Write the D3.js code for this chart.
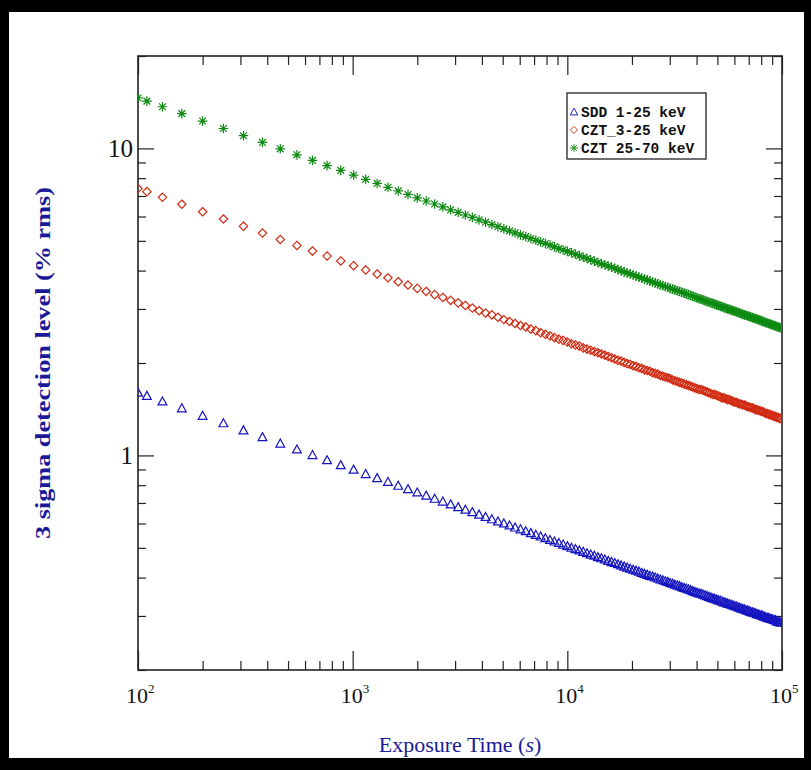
<!DOCTYPE html>
<html>
<head>
<meta charset="utf-8">
<script src="https://cdn.jsdelivr.net/npm/d3@7"></script>
<style>
  html, body { margin: 0; padding: 0; background: #000; }
  svg { display: block; }
</style>
</head>
<body>
<svg id="chart"></svg>
<script>
// Exposure times (s)
const times = [100, 110, 130, 160, 200, 250, 310, 380, 460, 550, 650, 760, 880, 1010, 1150, 1300, 1460, 1630, 1810, 2000,
  2200, 2410, 2630, 2860, 3100, 3350, 3610, 3880, 4160, 4450, 4750, 5060, 5380, 5710, 6050, 6400, 6760, 7130, 7510, 7900,
  8300, 8710, 9130, 9560, 10000, 10450, 10910, 11380, 11860, 12350, 12850, 13360, 13880, 14410, 14950, 15500, 16060, 16630, 17210, 17800,
  18400, 19010, 19630, 20260, 20900, 21550, 22210, 22880, 23560, 24250, 24950, 25660, 26380, 27110, 27850, 28600, 29360, 30130, 30910, 31700,
  32500, 33310, 34130, 34960, 35800, 36650, 37510, 38380, 39260, 40150, 41050, 41960, 42880, 43810, 44750, 45700, 46660, 47630, 48610, 49600,
  50600, 51610, 52630, 53660, 54700, 55750, 56810, 57880, 58960, 60050, 61150, 62260, 63380, 64510, 65650, 66800, 67960, 69130, 70310, 71500,
  72700, 73910, 75130, 76360, 77600, 78850, 80110, 81380, 82660, 83950, 85250, 86560, 87880, 89210, 90550, 91900, 93260, 94630, 96010, 97400,
  98800];

// 3 sigma detection level (% rms)
const sddValues = [1.600, 1.562, 1.498, 1.423, 1.345, 1.272, 1.206, 1.146, 1.092, 1.045, 1.002, 0.964, 0.929, 0.898, 0.869, 0.843, 0.819, 0.796, 0.776, 0.757,
  0.739, 0.722, 0.707, 0.692, 0.678, 0.665, 0.653, 0.641, 0.630, 0.619, 0.609, 0.600, 0.591, 0.582, 0.574, 0.566, 0.558, 0.551, 0.544, 0.537,
  0.530, 0.524, 0.518, 0.512, 0.506, 0.500, 0.495, 0.490, 0.485, 0.480, 0.475, 0.471, 0.466, 0.462, 0.458, 0.453, 0.449, 0.446, 0.442, 0.438,
  0.434, 0.431, 0.427, 0.424, 0.421, 0.418, 0.414, 0.411, 0.408, 0.405, 0.403, 0.400, 0.397, 0.394, 0.392, 0.389, 0.387, 0.384, 0.382, 0.379,
  0.377, 0.375, 0.372, 0.370, 0.368, 0.366, 0.364, 0.361, 0.359, 0.357, 0.355, 0.354, 0.352, 0.350, 0.348, 0.346, 0.344, 0.342, 0.341, 0.339,
  0.337, 0.336, 0.334, 0.332, 0.331, 0.329, 0.328, 0.326, 0.325, 0.323, 0.322, 0.320, 0.319, 0.317, 0.316, 0.315, 0.313, 0.312, 0.311, 0.309,
  0.308, 0.307, 0.306, 0.304, 0.303, 0.302, 0.301, 0.300, 0.298, 0.297, 0.296, 0.295, 0.294, 0.293, 0.292, 0.291, 0.290, 0.288, 0.287, 0.286,
  0.285];

const cztLowValues = [7.40, 7.23, 6.93, 6.58, 6.22, 5.89, 5.58, 5.30, 5.05, 4.83, 4.63, 4.46, 4.30, 4.15, 4.02, 3.90, 3.79, 3.68, 3.59, 3.50,
  3.42, 3.34, 3.27, 3.20, 3.14, 3.08, 3.02, 2.96, 2.91, 2.87, 2.82, 2.77, 2.73, 2.69, 2.65, 2.62, 2.58, 2.55, 2.51, 2.48,
  2.45, 2.42, 2.39, 2.37, 2.34, 2.31, 2.29, 2.27, 2.24, 2.22, 2.20, 2.18, 2.16, 2.14, 2.12, 2.10, 2.08, 2.06, 2.04, 2.03,
  2.01, 1.99, 1.98, 1.96, 1.95, 1.93, 1.92, 1.90, 1.89, 1.88, 1.86, 1.85, 1.84, 1.82, 1.81, 1.80, 1.79, 1.78, 1.76, 1.75,
  1.74, 1.73, 1.72, 1.71, 1.70, 1.69, 1.68, 1.67, 1.66, 1.65, 1.64, 1.64, 1.63, 1.62, 1.61, 1.60, 1.59, 1.58, 1.58, 1.57,
  1.56, 1.55, 1.54, 1.54, 1.53, 1.52, 1.52, 1.51, 1.50, 1.49, 1.49, 1.48, 1.47, 1.47, 1.46, 1.46, 1.45, 1.44, 1.44, 1.43,
  1.43, 1.42, 1.41, 1.41, 1.40, 1.40, 1.39, 1.39, 1.38, 1.37, 1.37, 1.36, 1.36, 1.35, 1.35, 1.34, 1.34, 1.33, 1.33, 1.32,
  1.32];

const cztHighValues = [14.60, 14.26, 13.67, 12.98, 12.28, 11.61, 11.00, 10.46, 9.97, 9.53, 9.14, 8.79, 8.48, 8.19, 7.93, 7.69, 7.47, 7.27, 7.08, 6.90,
  6.74, 6.59, 6.45, 6.31, 6.19, 6.07, 5.96, 5.85, 5.75, 5.65, 5.56, 5.47, 5.39, 5.31, 5.23, 5.16, 5.09, 5.02, 4.96, 4.90,
  4.84, 4.78, 4.72, 4.67, 4.62, 4.57, 4.52, 4.47, 4.42, 4.38, 4.34, 4.29, 4.25, 4.21, 4.18, 4.14, 4.10, 4.07, 4.03, 4.00,
  3.96, 3.93, 3.90, 3.87, 3.84, 3.81, 3.78, 3.75, 3.73, 3.70, 3.67, 3.65, 3.62, 3.60, 3.57, 3.55, 3.53, 3.50, 3.48, 3.46,
  3.44, 3.42, 3.40, 3.38, 3.36, 3.34, 3.32, 3.30, 3.28, 3.26, 3.24, 3.23, 3.21, 3.19, 3.17, 3.16, 3.14, 3.13, 3.11, 3.09,
  3.08, 3.06, 3.05, 3.03, 3.02, 3.00, 2.99, 2.98, 2.96, 2.95, 2.94, 2.92, 2.91, 2.90, 2.88, 2.87, 2.86, 2.85, 2.84, 2.82,
  2.81, 2.80, 2.79, 2.78, 2.77, 2.76, 2.74, 2.73, 2.72, 2.71, 2.70, 2.69, 2.68, 2.67, 2.66, 2.65, 2.64, 2.63, 2.62, 2.61,
  2.60];

const seriesNames = ["SDD 1-25 keV", "CZT_3-25 keV", "CZT 25-70 keV"];

// Tick values
const xMajorTicks = [100, 1000, 10000, 100000];
const xTickExponents = ["2", "3", "4", "5"];
const xMinorTicks = [200, 300, 400, 500, 600, 700, 800, 900, 2000, 3000, 4000, 5000, 6000, 7000, 8000, 9000,
  20000, 30000, 40000, 50000, 60000, 70000, 80000, 90000];
const yMajorTicks = [1, 10];
const yTickLabels = ["1", "10"];
const yMinorTicks = [0.2, 0.3, 0.4, 0.5, 0.6, 0.7, 0.8, 0.9, 2, 3, 4, 5, 6, 7, 8, 9, 20];

// Dimensions
const Width = 811;
const Height = 770;
const plotLeft = 138, plotRight = 782, plotTop = 56, plotBottom = 670;
const serif = "'Liberation Serif', 'DejaVu Serif', serif";
const titleColor = "#1a1a98";

const svg = d3.select("#chart")
  .attr("width", Width)
  .attr("height", Height);

// black edge, white page
svg.append("rect").attr("width", Width).attr("height", Height).attr("fill", "#000");
svg.append("rect")
  .attr("x", 9).attr("y", 12)
  .attr("width", 795).attr("height", 746)
  .attr("fill", "#fff");

// Scales
const xScale = d3.scaleLog().domain([100, 100000]).range([plotLeft, plotRight]);
const yScale = d3.scaleLog().domain([0.2, 20]).range([plotBottom, plotTop]);

// Ticks on all four sides, pointing inward
function addTicks(axisFn, scale, values, size, transform) {
  svg.append("g")
    .attr("transform", transform)
    .call(axisFn(scale).tickValues(values).tickSize(size).tickSizeOuter(0).tickFormat(""))
    .call(g => g.select(".domain").remove())
    .call(g => g.selectAll("line").attr("stroke", "#222").attr("stroke-width", 1.2));
}
addTicks(d3.axisBottom, xScale, xMinorTicks, -9, `translate(0,${plotBottom})`);
addTicks(d3.axisBottom, xScale, xMajorTicks, -19, `translate(0,${plotBottom})`);
addTicks(d3.axisTop, xScale, xMinorTicks, -9, `translate(0,${plotTop})`);
addTicks(d3.axisTop, xScale, xMajorTicks, -19, `translate(0,${plotTop})`);
addTicks(d3.axisLeft, yScale, yMinorTicks, -8, `translate(${plotLeft},0)`);
addTicks(d3.axisLeft, yScale, yMajorTicks, -16, `translate(${plotLeft},0)`);
addTicks(d3.axisRight, yScale, yMinorTicks, -8, `translate(${plotRight},0)`);
addTicks(d3.axisRight, yScale, yMajorTicks, -16, `translate(${plotRight},0)`);

// Frame
svg.append("rect")
  .attr("x", plotLeft).attr("y", plotTop)
  .attr("width", plotRight - plotLeft).attr("height", plotBottom - plotTop)
  .attr("fill", "none")
  .attr("stroke", "#222")
  .attr("stroke-width", 1.6);

// Tick labels
const xLabels = svg.append("g").attr("font-family", serif).attr("font-size", 22).attr("fill", "#111");
xMajorTicks.forEach((v, i) => {
  const t = xLabels.append("text")
    .attr("x", xScale(v) - 12)
    .attr("y", 703);
  t.append("tspan").text("10");
  t.append("tspan").attr("font-size", 13).attr("dy", -10).text(xTickExponents[i]);
});

svg.append("g").attr("font-family", serif).attr("font-size", 25).attr("fill", "#111")
  .selectAll("text")
  .data(yMajorTicks)
  .enter()
  .append("text")
  .attr("x", plotLeft - 5)
  .attr("y", d => yScale(d))
  .attr("dy", "0.35em")
  .attr("text-anchor", "end")
  .text((d, i) => yTickLabels[i]);

// Axis titles
svg.append("text")
  .attr("transform", "translate(50,363) rotate(-90)")
  .attr("text-anchor", "middle")
  .attr("font-family", serif)
  .attr("font-weight", "bold")
  .attr("font-size", 21)
  .attr("textLength", 352)
  .attr("lengthAdjust", "spacingAndGlyphs")
  .attr("fill", titleColor)
  .text("3 sigma detection level (% rms)");

const xTitle = svg.append("text")
  .attr("x", 460)
  .attr("y", 752)
  .attr("text-anchor", "middle")
  .attr("font-family", serif)
  .attr("font-size", 22)
  .attr("fill", titleColor);
xTitle.append("tspan").text("Exposure Time (");
xTitle.append("tspan").attr("font-style", "italic").text("s");
xTitle.append("tspan").text(")");

// Symbols
const symbolPaths = [
  "M0,-4.6L4.4,3.4L-4.4,3.4Z",
  "M0,-4.2L4.2,0L0,4.2L-4.2,0Z",
  "M-4.8,0H4.8M0,-4.8V4.8M-3.4,-3.4L3.4,3.4M-3.4,3.4L3.4,-3.4"
];
const symbolColors = ["#1414c0", "#d02a12", "#0e8a12"];
const seriesValues = [sddValues, cztLowValues, cztHighValues];

svg.append("clipPath").attr("id", "plot-clip")
  .append("rect")
  .attr("x", plotLeft).attr("y", plotTop)
  .attr("width", plotRight - plotLeft).attr("height", plotBottom - plotTop);

const plot = svg.append("g").attr("clip-path", "url(#plot-clip)");

seriesValues.forEach((vals, s) => {
  plot.append("g")
    .selectAll("path")
    .data(times)
    .enter()
    .append("path")
    .attr("transform", (d, i) => `translate(${xScale(d)},${yScale(vals[i])})`)
    .attr("d", symbolPaths[s])
    .attr("fill", "none")
    .attr("stroke", symbolColors[s])
    .attr("stroke-width", 1.2);
});

// Legend
const legend = svg.append("g").attr("transform", "translate(567,93)");
legend.append("rect")
  .attr("width", 139).attr("height", 66)
  .attr("fill", "#fff")
  .attr("stroke", "#222")
  .attr("stroke-width", 1.3);

const items = legend.selectAll("g.item")
  .data(seriesNames)
  .enter()
  .append("g")
  .attr("class", "item")
  .attr("transform", (d, i) => `translate(7,${19 + i * 18})`);

items.append("path")
  .attr("d", (d, i) => symbolPaths[i])
  .attr("transform", "scale(0.85)")
  .attr("fill", "none")
  .attr("stroke", (d, i) => symbolColors[i])
  .attr("stroke-width", 1.1);

items.append("text")
  .attr("x", 7)
  .attr("dy", "0.35em")
  .attr("font-family", "'Liberation Mono', 'DejaVu Sans Mono', monospace")
  .attr("font-weight", "bold")
  .attr("font-size", 14.5)
  .attr("fill", "#111")
  .text(d => d);
</script>
</body>
</html>
